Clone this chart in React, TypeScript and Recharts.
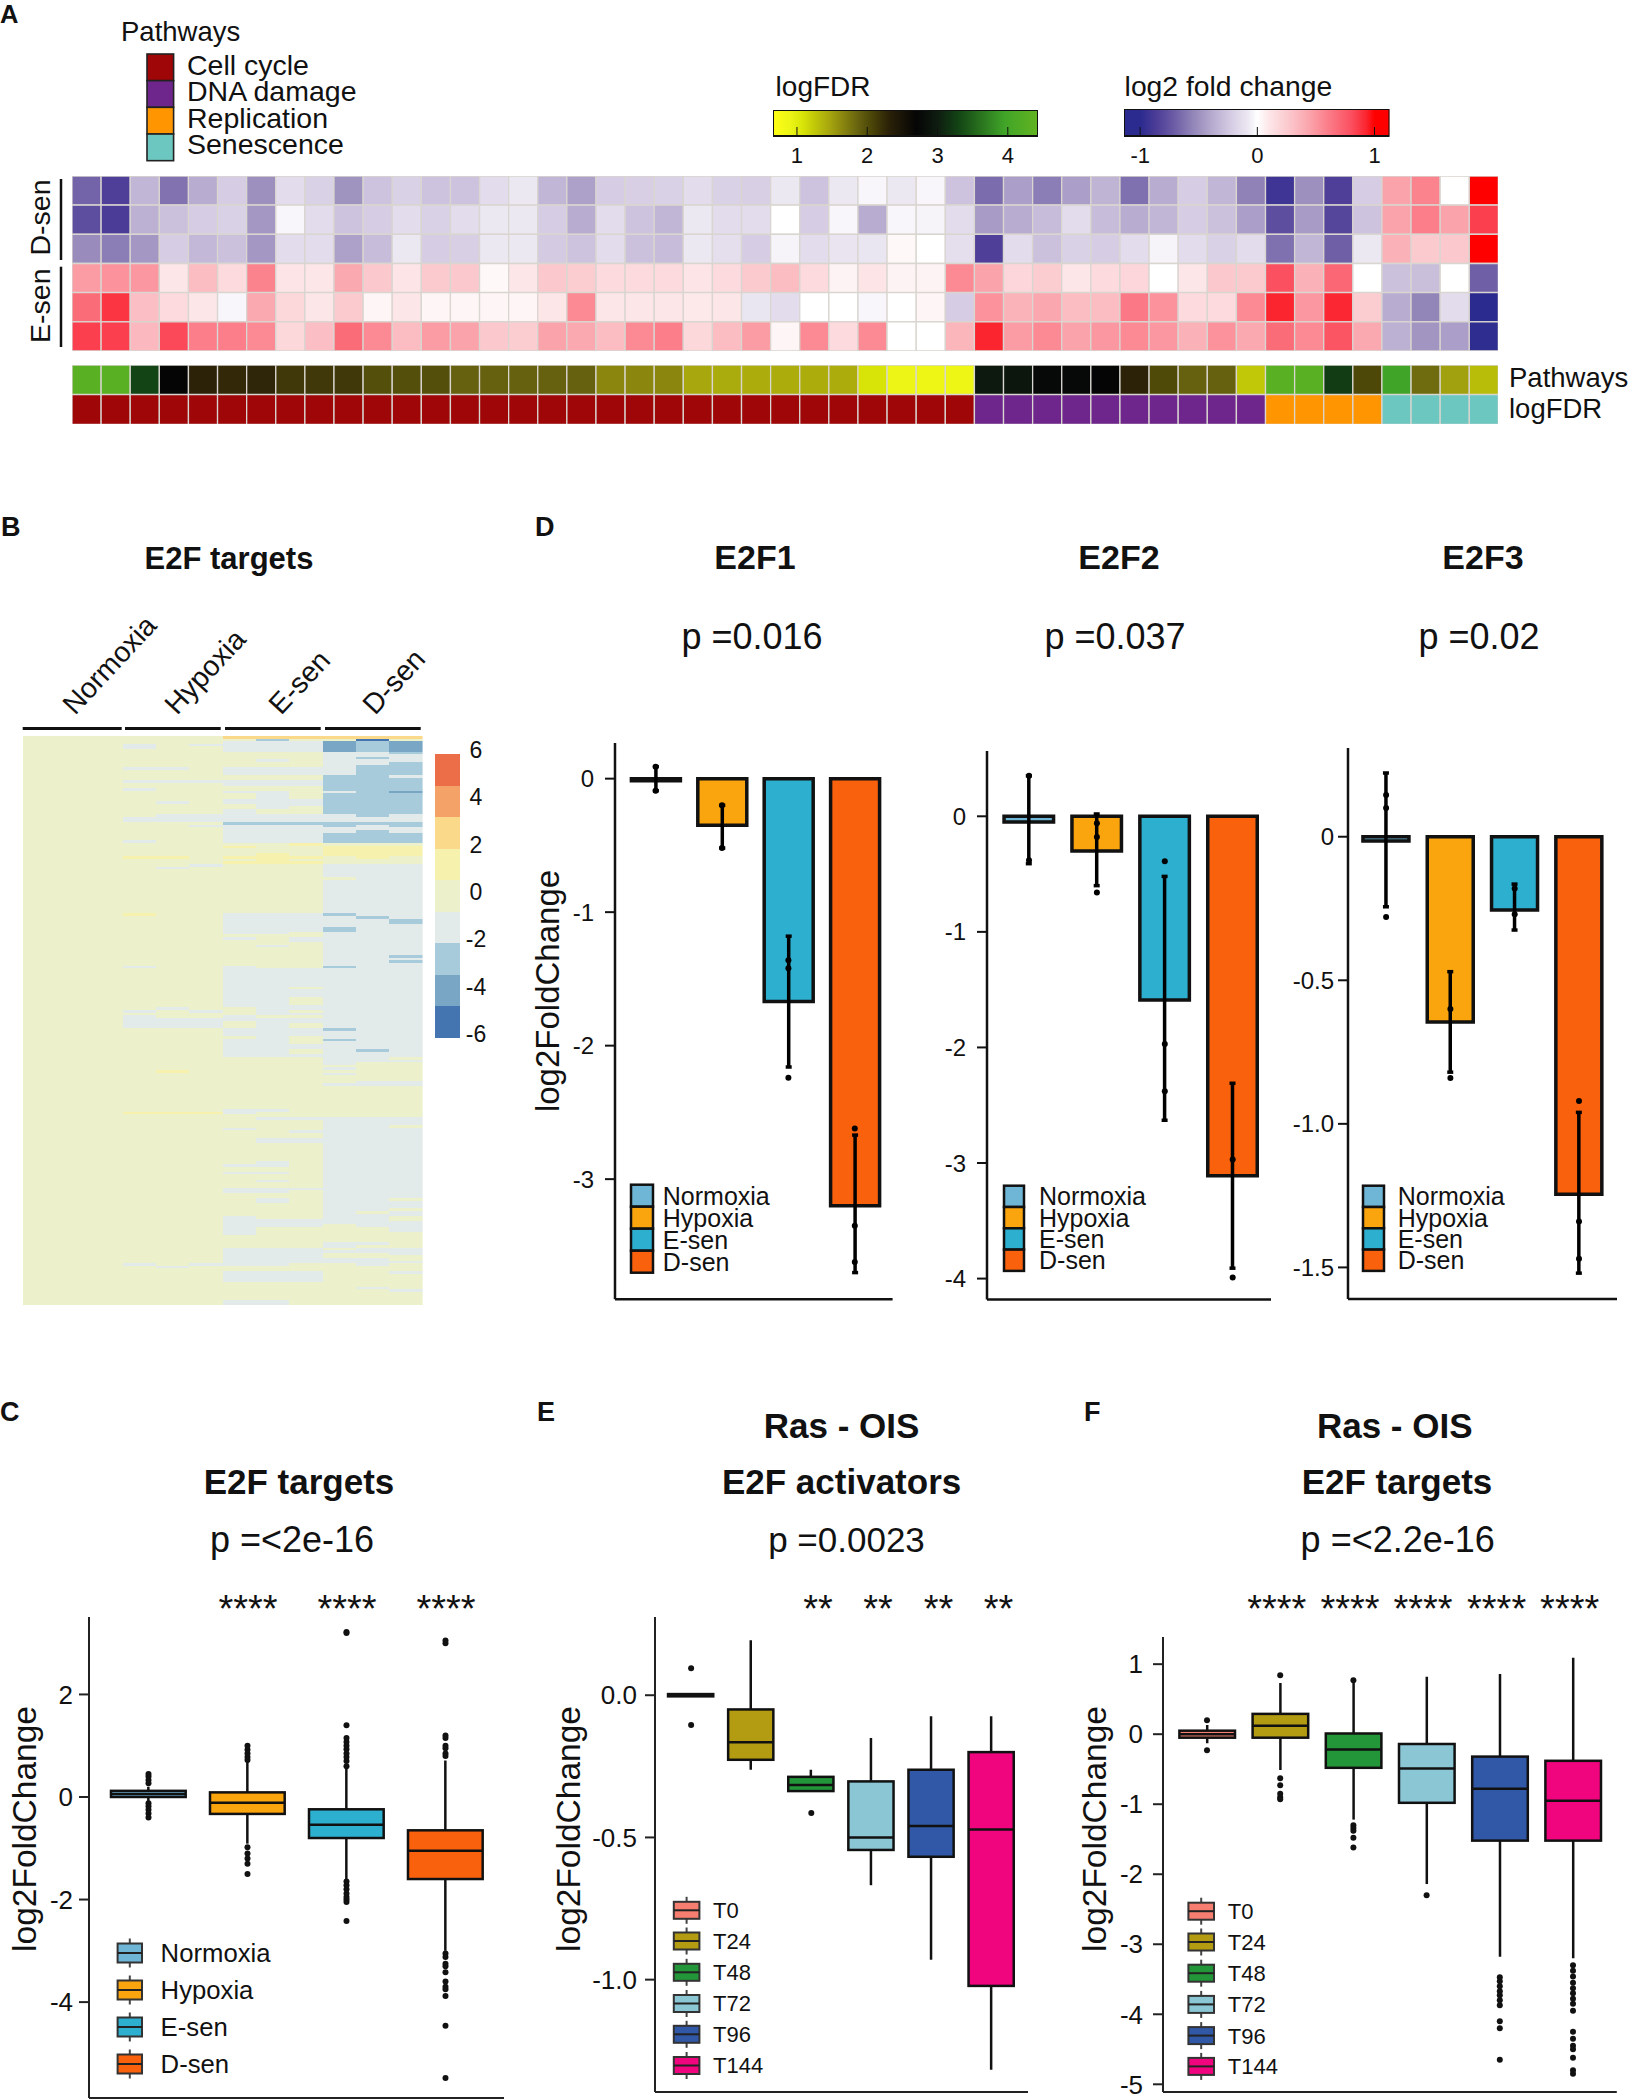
import React from 'react';
import { Bar, BarChart, Cell, ComposedChart, ErrorBar, Line, XAxis, YAxis } from 'recharts';

const FONT = '"Liberation Sans", Arial, sans-serif';
const INK = '#111111';

// ---------- panel A ----------
const dSen1 = [-.68, -.85, -.33, -.62, -.38, -.22, -.5, -.14, -.2, -.49, -.27, -.2, -.27, -.27, -.14, -.08, -.33, -.43, -.22, -.21, -.2, -.14, -.2, -.21, -.08, -.27, -.08, -.03, -.08, -.03, -.27, -.65, -.44, -.58, -.44, -.34, -.63, -.38, -.22, -.33, -.56, -.92, -.5, -.85, -.22, .45, .58, 0, 1];
const dSen2 = [-.78, -.87, -.36, -.28, -.22, -.2, -.47, -.03, -.14, -.27, -.22, -.14, -.2, -.14, -.08, -.08, -.22, -.38, -.14, -.27, -.33, -.08, -.14, -.14, 0, -.22, -.03, -.38, -.03, -.04, -.14, -.45, -.38, -.3, -.14, -.3, -.38, -.33, -.22, -.28, -.44, -.78, -.45, -.82, -.27, .45, .6, .45, .85];
const dSen3 = [-.52, -.58, -.47, -.22, -.32, -.28, -.47, -.14, -.14, -.43, -.3, -.08, -.22, -.21, -.08, -.08, -.23, -.27, -.14, -.28, -.3, -.08, -.13, -.22, -.04, -.14, -.1, -.09, .03, 0, -.13, -.85, -.14, -.28, -.2, -.22, -.14, -.04, -.14, -.2, -.14, -.63, -.33, -.7, -.08, .38, .26, .27, 1];
const eSen1 = [.48, .52, .5, .1, .33, .17, .58, .11, .1, .42, .27, .11, .26, .27, .03, .1, .27, .25, .17, .17, .17, .11, .17, .26, .33, .17, .05, .11, .05, .05, .55, .45, .19, .25, .1, .17, .19, 0, .1, .27, .26, .8, .38, .7, 0, -.28, -.29, 0, -.7];
const eSen2 = [.68, .88, .32, .17, .1, -.03, .42, .18, .1, .26, .04, .1, .04, .04, .04, .04, .1, .55, .1, .1, .1, .09, .1, -.09, -.14, 0, 0, -.03, 0, .04, -.22, .52, .37, .43, .33, .33, .62, .52, .17, .17, .55, .93, .5, .92, .25, -.38, -.55, -.14, -1];
const eSen3 = [.85, .85, .35, .82, .6, .6, .55, .18, .32, .68, .55, .33, .48, .45, .27, .25, .45, .42, .33, .55, .6, .18, .33, .48, .04, .55, .17, .55, 0, 0, .36, .93, .48, .55, .45, .5, .55, .5, .38, .52, .42, .68, .55, .78, .42, -.36, -.48, -.44, -.98];
const logFdr = [4.3, 4.3, 3.3, 2.7, 2.3, 2.25, 2.28, 2.15, 2.15, 2.15, 2, 2, 2, 1.88, 1.88, 1.88, 1.88, 1.88, 1.65, 1.65, 1.65, 1.45, 1.43, 1.42, 1.42, 1.42, 1.42, 1.08, .9, .88, .88, 2.95, 2.92, 2.75, 2.75, 2.7, 2.3, 2.03, 1.88, 1.88, 1.25, 4.3, 4.3, 3.25, 2.05, 3.95, 1.82, 1.5, 1.32];
const pathwayNames = ['Cell cycle', 'DNA damage', 'Replication', 'Senescence'];
const pathwayColors = ['#9e0608', '#6f268c', '#ff9500', '#6cc7c0'];
const pathwayCounts = [31, 10, 4, 4];

const foldStops: [number, string][] = [[-1, '#2b2a8f'], [-.85, '#4f3f98'], [-.72, '#6a5aa5'], [-.55, '#9285b8'], [-.38, '#b8acd0'], [-.22, '#d6cde4'], [-.08, '#ece8f2'], [0, '#ffffff'], [.1, '#fde6e8'], [.27, '#fbc8cd'], [.45, '#fba3ab'], [.6, '#fb7e8a'], [.8, '#fb5060'], [.93, '#fb2530'], [1, '#ff0000']];
const fdrStops: [number, string][] = [[.66, '#ffff14'], [.9, '#ecf516'], [1.08, '#d8e408'], [1.25, '#c0c808'], [1.45, '#a8a80e'], [1.65, '#8a860e'], [1.88, '#65610f'], [2.05, '#4d4708'], [2.3, '#2c2208'], [2.7, '#050505'], [3, '#0e1c10'], [3.3, '#134415'], [3.95, '#40a428'], [4.43, '#62b420']];

// ---------- panel B ----------
const heatBins = ['#ec6e48', '#f5a268', '#fad98a', '#f6f1ac', '#edf1cb', '#e2ebea', '#a8cbdc', '#7aa6c6', '#4575b0'];
const G = -1.3, L = -2.7, M = -4, K = -5.3, Y = 1.3, O = 2.7;
const HEAT_ROWS = 218;
type Paint = [number, number[][]];
const normoxiaCol: Paint[] = [];
const hypoxia1: Paint[] = [[G, [[3, 5], [12, 13], [17, 18], [20, 21], [31, 33], [40, 41], [88, 89], [105, 106], [107, 112], [202, 203]]], [Y, [[46, 47], [68, 69], [144, 145]]]];
const hypoxia2: Paint[] = [[G, [[12, 13], [17, 18], [25, 26], [30, 33], [50, 51], [104, 105], [108, 112], [203, 204]]], [Y, [[46, 47], [128, 129], [144, 145]]]];
const hypoxia3: Paint[] = [[G, [[3, 4], [17, 18], [30, 33], [34, 35], [49, 50], [105, 106], [108, 112], [202, 203]]], [Y, [[144, 145]]]];
const eSenCol1: Paint[] = [[O, [[0, 1]]], [G, [[2, 6], [12, 15], [17, 19], [21, 22], [24, 26], [28, 41], [68, 76], [77, 78], [88, 104], [107, 109], [112, 115], [116, 123], [143, 145], [150, 151], [164, 165], [167, 168], [173, 175], [184, 191], [196, 203], [205, 209], [216, 218]]], [L, [[33, 34]]], [Y, [[42, 43], [46, 47], [48, 49]]]];
const eSenCol2: Paint[] = [[O, [[0, 1]]], [L, [[1, 2]]], [G, [[2, 6], [9, 10], [12, 15], [17, 19], [21, 28], [30, 41], [68, 76], [80, 81], [89, 107], [108, 123], [143, 144], [146, 147], [154, 156], [163, 165], [167, 168], [170, 171], [173, 175], [177, 179], [185, 188], [196, 203], [205, 209], [216, 218]]], [L, [[33, 34]]], [Y, [[45, 49]]]];
const eSenCol3: Paint[] = [[O, [[0, 1]]], [G, [[2, 6], [12, 15], [17, 19], [24, 27], [30, 41], [68, 75], [77, 79], [89, 96], [97, 100], [103, 105], [106, 107], [108, 110], [112, 115], [118, 120], [122, 123], [146, 147], [151, 152], [154, 156], [173, 174], [185, 188], [196, 202], [205, 209]]], [L, [[33, 34]]], [Y, [[41, 42], [46, 47], [48, 49]]]];
const dSenCol1: Paint[] = [[O, [[0, 1]]], [M, [[2, 6]]], [G, [[6, 15], [21, 22], [30, 33], [35, 37], [49, 54], [55, 68], [69, 73], [75, 88], [89, 112], [113, 116], [117, 126], [127, 128], [129, 130], [133, 134], [146, 187], [194, 196], [197, 198], [200, 202]]], [L, [[15, 21], [22, 30], [33, 35], [37, 41], [68, 69], [73, 75], [88, 89], [112, 113], [116, 117]]], [Y, [[42, 46]]]];
const dSenCol2: Paint[] = [[O, [[0, 1]]], [K, [[1, 2]]], [L, [[2, 6], [8, 9], [11, 31], [33, 34], [36, 41], [69, 70], [120, 121]]], [G, [[6, 8], [9, 11], [31, 33], [34, 36], [49, 69], [70, 120], [121, 125], [132, 134], [146, 182], [183, 188], [194, 195], [196, 198], [200, 203], [211, 212]]], [Y, [[42, 47]]]];
const dSenCol3: Paint[] = [[O, [[0, 1]]], [M, [[2, 6], [21, 22]]], [L, [[6, 7], [10, 15], [16, 21], [22, 30], [33, 35], [37, 41], [70, 72], [84, 85], [86, 87]]], [G, [[7, 10], [15, 16], [30, 33], [35, 37], [49, 70], [72, 84], [85, 86], [87, 123], [124, 125], [132, 134], [146, 149], [150, 177], [178, 181], [182, 184], [186, 190], [196, 199], [201, 202], [205, 206], [212, 213]]], [Y, [[42, 46]]]];
const heatColumns = [normoxiaCol, normoxiaCol, normoxiaCol, hypoxia1, hypoxia2, hypoxia3, eSenCol1, eSenCol2, eSenCol3, dSenCol1, dSenCol2, dSenCol3];

// ---------- panel D ----------
const conditions = ['Normoxia', 'Hypoxia', 'E-sen', 'D-sen'];
const conditionColors = ['#6fb5d6', '#fba50e', '#2db0d0', '#fa610d'];
const e2f1Values = [-.015, -.35, -1.67, -3.2];
const e2f1High = [.09, -.2, -1.18, -2.67];
const e2f1Low = [-.09, -.52, -2.16, -3.7];
const e2f1Points = [[.09, -.09], [-.2, -.52], [-1.36, -1.42, -2.24], [-2.62, -3.35, -3.62]];
const e2f2Values = [-.05, -.3, -1.59, -3.11];
const e2f2High = [.35, .02, -.52, -2.31];
const e2f2Low = [-.41, -.6, -2.63, -3.91];
const e2f2Points = [[.35, -.38], [-.06, -.18, -.66], [-.39, -1.97, -2.38], [-2.97, -3.99]];
const e2f3Values = [-.015, -.645, -.255, -1.245];
const e2f3High = [.222, -.47, -.165, -.96];
const e2f3Low = [-.244, -.82, -.325, -1.52];
const e2f3Points = [[.145, .1, -.28], [-.6, -.84], [-.18, -.27], [-.92, -1.34, -1.47]];

// ---------- panel C ----------
const cQ3 = [.12, .09, -.24, -.65];
const cQ1 = [0, -.33, -.8, -1.6];
const cMedian = [.06, -.11, -.54, -1.05];
const cHigh = [.2, .7, .6, .71];
const cLow = [-.1, -.91, -1.6, -3];
const cOutliers = [
  [.27, .33, .4, .45, -.12, -.18, -.25, -.32, -.4],
  [.72, .78, .85, .92, 1, -.98, -1.1, -1.2, -1.3, -1.5],
  [.6, .7, .78, .85, .93, 1, 1.07, 1.15, 1.4, 3.2, 3.22, -1.65, -1.72, -1.8, -1.88, -1.95, -2, -2.05, -2.42],
  [.8, .85, .95, 1, 1.15, 1.2, 3, 3.05, -3.05, -3.12, -3.25, -3.3, -3.42, -3.6, -3.7, -3.75, -3.88, -4.46, -5.48],
];

// ---------- panels E and F ----------
const timepoints = ['T0', 'T24', 'T48', 'T72', 'T96', 'T144'];
const timeColors = ['#f67e70', '#b39c12', '#23963a', '#8bc6d4', '#3158a6', '#f0057e'];
const eQ3 = [.004, -.05, -.287, -.303, -.262, -.2];
const eQ1 = [-.004, -.227, -.337, -.544, -.568, -1.022];
const eMedian = [0, -.165, -.316, -.5, -.46, -.472];
const eHigh = [.004, .193, -.262, -.15, -.074, -.074];
const eLow = [-.004, -.262, -.337, -.668, -.93, -1.317];
const eOutliers = [[.095, -.105], [], [-.414], [], [], []];
const fQ3 = [.05, .29, .01, -.14, -.32, -.38];
const fQ1 = [-.05, -.05, -.48, -.98, -1.52, -1.52];
const fMedian = [0, .12, -.22, -.49, -.78, -.95];
const fHigh = [.13, .73, .73, .82, .86, 1.09];
const fLow = [-.13, -.51, -1.22, -2.14, -3.18, -3.2];
const fOutliers = [
  [.2, -.23],
  [.84, -.63, -.73, -.85, -.9, -.93],
  [.77, -1.3, -1.34, -1.38, -1.48, -1.62],
  [-2.3],
  [-3.47, -3.53, -3.6, -3.67, -3.73, -3.8, -3.87, -4.1, -4.2, -4.65],
  [-3.3, -3.38, -3.46, -3.55, -3.63, -3.7, -3.78, -3.85, -3.95, -4.25, -4.35, -4.45, -4.5, -4.62, -4.8, -4.85],
];

// ---------- helpers ----------
function hexToRgb(hex: string) {
  return [1, 3, 5].map((i) => parseInt(hex.slice(i, i + 2), 16));
}

function scaleColor(stops: [number, string][], v: number) {
  if (v <= stops[0][0]) return stops[0][1];
  for (let i = 1; i < stops.length; i++) {
    if (v <= stops[i][0]) {
      const t = (v - stops[i - 1][0]) / (stops[i][0] - stops[i - 1][0]);
      const a = hexToRgb(stops[i - 1][1]);
      const b = hexToRgb(stops[i][1]);
      return `rgb(${a.map((c, k) => Math.round(c + (b[k] - c) * t)).join(',')})`;
    }
  }
  return stops[stops.length - 1][1];
}

function binColor(v: number) {
  return heatBins[Math.round((6 - v) / (12 / 9) - 0.5)];
}

function columnRuns(paints: Paint[]) {
  const cells = new Array(HEAT_ROWS).fill(0);
  paints.forEach(([value, spans]) => spans.forEach(([s, e]) => {
    for (let r = s; r < e; r++) cells[r] = value;
  }));
  const runs: { value: number; length: number }[] = [];
  cells.forEach((v) => {
    const last = runs[runs.length - 1];
    if (last && last.value === v) last.length += 1;
    else runs.push({ value: v, length: 1 });
  });
  return runs;
}

function Place({ left, top, style, children }: any) {
  return <div style={{ position: 'absolute', left, top, ...style }}>{children}</div>;
}

function T({ x, y, size, bold, anchor = 'start', rotate, children }: any) {
  return (
    <text
      x={x}
      y={y}
      fontSize={size}
      fontWeight={bold ? 700 : 400}
      textAnchor={anchor}
      fill={INK}
      transform={rotate ? `rotate(${rotate} ${x} ${y})` : undefined}
    >
      {children}
    </text>
  );
}

function HeatGrid({ left, top, width, height, rows }: { left: number; top: number; width: number; height: number; rows: string[][] }) {
  const cols = rows[0].map((_, c) => c);
  const data = rows.map((_, i) => {
    const row: Record<string, any> = { name: `r${i}` };
    cols.forEach((c) => { row[`c${c}`] = 1; });
    return row;
  });
  return (
    <Place left={left} top={top}>
      <BarChart layout="vertical" width={width} height={height} data={data} margin={{ top: 0, right: 0, bottom: 0, left: 0 }} barCategoryGap={0}>
        <XAxis type="number" hide domain={[0, cols.length]} />
        <YAxis type="category" dataKey="name" hide />
        {cols.map((c) => (
          <Bar key={c} dataKey={`c${c}`} stackId="h" stroke="#d9d5d0" strokeWidth={1.3} isAnimationActive={false}>
            {rows.map((r, i) => <Cell key={i} fill={r[c]} />)}
          </Bar>
        ))}
      </BarChart>
    </Place>
  );
}

function ColorBar({ id, left, top, width, barHeight, domain, ticks, stops }: any) {
  const [lo, hi] = domain;
  return (
    <Place left={left} top={top}>
      <BarChart layout="vertical" width={width} height={barHeight + 40} data={[{ name: id, range: [lo, hi] }]} margin={{ top: 0, right: 0, bottom: 0, left: 0 }} barCategoryGap={0}>
        <defs>
          <linearGradient id={id} x1="0" y1="0" x2="1" y2="0">
            {stops.map(([v, c]: [number, string]) => (
              <stop key={v} offset={`${((v - lo) / (hi - lo)) * 100}%`} stopColor={c} />
            ))}
          </linearGradient>
        </defs>
        <XAxis
          type="number"
          domain={domain}
          ticks={ticks}
          interval={0}
          height={40}
          axisLine={false}
          tickLine={false}
          tickSize={0}
          tickMargin={0}
          allowDataOverflow
          tick={(p: any) => (
            <g>
              <line x1={p.x} x2={p.x} y1={barHeight - 9} y2={barHeight} stroke={INK} strokeWidth={1} />
              <text x={p.x} y={barHeight + 27} textAnchor="middle" fontSize={22} fill={INK} fontFamily={FONT}>{p.payload.value}</text>
            </g>
          )}
        />
        <YAxis type="category" dataKey="name" hide />
        <Bar dataKey="range" fill={`url(#${id})`} stroke={INK} strokeWidth={2} isAnimationActive={false} />
      </BarChart>
    </Place>
  );
}

const tickStyle = (size: number) => ({ fill: INK, fontSize: size, fontFamily: FONT });

function FoldBars({ axisX, endX, top, bottom, first, step, barWidth, domain, ticks, format, values, high, low, points, tickGap }: any) {
  const yw = 70;
  const data = conditions.map((c, i) => {
    const row: Record<string, any> = {
      name: c,
      value: values[i],
      err: [values[i] - low[i], high[i] - values[i]],
      color: conditionColors[i],
    };
    points[i].forEach((p: number, k: number) => { row[`p${k}`] = p; });
    return row;
  });
  return (
    <Place left={axisX - yw} top={top}>
      <ComposedChart width={endX - axisX + yw} height={bottom - top} data={data} margin={{ top: 0, right: 0, bottom: 0, left: 0 }}>
        <XAxis
          dataKey="name"
          height={2}
          tick={false}
          tickLine={false}
          axisLine={{ stroke: INK, strokeWidth: 2.5 }}
          padding={{ left: first - step / 2 - axisX, right: endX - (first + step * 3.5) }}
        />
        <YAxis
          width={yw}
          type="number"
          domain={domain}
          ticks={ticks}
          interval={0}
          allowDataOverflow
          tickFormatter={format}
          tick={tickStyle(24)}
          tickSize={10}
          tickMargin={tickGap}
          axisLine={{ stroke: INK, strokeWidth: 2.5 }}
          tickLine={{ stroke: INK, strokeWidth: 2 }}
        />
        <Bar dataKey="value" barSize={barWidth} stroke={INK} strokeWidth={3.5} isAnimationActive={false}>
          {data.map((d) => <Cell key={d.name} fill={d.color} />)}
          <ErrorBar dataKey="err" width={3} strokeWidth={3.5} stroke="#000" direction="y" isAnimationActive={false} />
        </Bar>
        {[0, 1, 2].map((k) => (
          <Line key={k} dataKey={`p${k}`} stroke="none" dot={{ r: 3, fill: '#000', stroke: 'none' }} activeDot={false} legendType="none" isAnimationActive={false} />
        ))}
      </ComposedChart>
    </Place>
  );
}

function BoxShape(props: any) {
  const { x, y, width, height, payload } = props;
  const top = Math.min(y, y + height);
  const h = Math.abs(height);
  const perUnit = h / (payload.q3 - payload.q1);
  const at = (v: number) => top + (payload.q3 - v) * perUnit;
  const cx = x + width / 2;
  return (
    <g>
      <line x1={cx} x2={cx} y1={at(payload.high)} y2={at(payload.low)} stroke={INK} strokeWidth={2.5} />
      <rect x={x} y={top} width={width} height={h} fill={payload.color} stroke={INK} strokeWidth={2.5} />
      <line x1={x} x2={x + width} y1={at(payload.median)} y2={at(payload.median)} stroke={INK} strokeWidth={2.5} />
    </g>
  );
}

function BoxPanel({ axisX, endX, top, bottom, first, step, boxWidth, domain, ticks, format, names, colors, q1, q3, median, high, low, outliers, tickGap }: any) {
  const yw = 80;
  const n = names.length;
  const data = names.map((name: string, i: number) => {
    const row: Record<string, any> = { name, box: [q1[i], q3[i]], q1: q1[i], q3: q3[i], median: median[i], high: high[i], low: low[i], color: colors[i] };
    outliers[i].forEach((p: number, k: number) => { row[`o${k}`] = p; });
    return row;
  });
  const maxOut = Math.max(...outliers.map((o: number[]) => o.length));
  return (
    <Place left={axisX - yw} top={top}>
      <ComposedChart width={endX - axisX + yw} height={bottom - top} data={data} margin={{ top: 0, right: 0, bottom: 0, left: 0 }}>
        <XAxis
          dataKey="name"
          height={2}
          tick={false}
          tickLine={false}
          axisLine={{ stroke: '#222', strokeWidth: 2 }}
          padding={{ left: first - step / 2 - axisX, right: endX - (first + step * (n - 0.5)) }}
        />
        <YAxis
          width={yw}
          type="number"
          domain={domain}
          ticks={ticks}
          interval={0}
          allowDataOverflow
          tickFormatter={format}
          tick={tickStyle(26)}
          tickSize={10}
          tickMargin={tickGap}
          axisLine={{ stroke: '#222', strokeWidth: 2 }}
          tickLine={{ stroke: '#222', strokeWidth: 2 }}
        />
        <Bar dataKey="box" barSize={boxWidth} shape={<BoxShape />} isAnimationActive={false} />
        {Array.from({ length: maxOut }, (_, k) => (
          <Line key={k} dataKey={`o${k}`} stroke="none" dot={{ r: 3, fill: '#111', stroke: 'none' }} activeDot={false} legendType="none" isAnimationActive={false} />
        ))}
      </ComposedChart>
    </Place>
  );
}

function SwatchLegend({ x, textX, tops, rowH, w, names, colors, size }: any) {
  return (
    <g>
      {names.map((name: string, i: number) => (
        <g key={name}>
          <rect x={x} y={tops + i * rowH} width={w} height={rowH} fill={colors[i]} stroke={INK} strokeWidth={2.5} />
          <T x={textX} y={tops + i * rowH + rowH * 0.5 + size * 0.36} size={size}>{name}</T>
        </g>
      ))}
    </g>
  );
}

function BoxLegend({ x, w, textX, centers, boxH, names, colors, size }: any) {
  return (
    <g>
      {names.map((name: string, i: number) => (
        <g key={name}>
          <line x1={x + w / 2} x2={x + w / 2} y1={centers[i] - boxH / 2 - 5} y2={centers[i] + boxH / 2 + 5} stroke="#444" strokeWidth={2} />
          <rect x={x} y={centers[i] - boxH / 2} width={w} height={boxH} fill={colors[i]} stroke="#333" strokeWidth={2} />
          <line x1={x} x2={x + w} y1={centers[i]} y2={centers[i]} stroke="#222" strokeWidth={2} />
          <T x={textX} y={centers[i] + size * 0.36} size={size}>{name}</T>
        </g>
      ))}
    </g>
  );
}

function Stars({ xs, text }: { xs: number[]; text: string }) {
  return <>{xs.map((x) => <T key={x} x={x} y={1622} size={38} anchor="middle">{text}</T>)}</>;
}

const fixed1 = (v: number) => (v === 0 ? '0' : v.toFixed(1));
const fixed1Zero = (v: number) => v.toFixed(1);
const plain = (v: number) => String(v);

export default function App() {
  const pathwayRow = pathwayColors.flatMap((c, i) => new Array(pathwayCounts[i]).fill(c));
  const foldRows = [dSen1, dSen2, dSen3, eSen1, eSen2, eSen3].map((r) => r.map((v) => scaleColor(foldStops, v)));
  const annotationRows = [logFdr.map((v) => scaleColor(fdrStops, v)), pathwayRow];

  const runsByColumn = heatColumns.map(columnRuns);
  const maxRuns = Math.max(...runsByColumn.map((r) => r.length));
  const heatData = runsByColumn.map((runs, i) => {
    const row: Record<string, any> = { name: `s${i}` };
    for (let k = 0; k < maxRuns; k++) row[`r${k}`] = runs[k] ? runs[k].length : 0;
    return row;
  });
  const binData = [Object.fromEntries([['name', 'bins'], ...heatBins.map((_, i) => [`b${i}`, 12 / 9])])];

  return (
    <div style={{ position: 'absolute', left: 0, top: 0, width: 1628, height: 2100, background: '#fff', fontFamily: FONT, overflow: 'hidden' }}>
      {/* A */}
      <HeatGrid left={71.6} top={176} width={1426.4} height={175} rows={foldRows} />
      <HeatGrid left={71.6} top={365} width={1426.4} height={59} rows={annotationRows} />
      <ColorBar id="fdrGrad" left={773} top={110} width={265} barHeight={26} domain={[.659, 4.43]} ticks={[1, 2, 3, 4]} stops={fdrStops} />
      <ColorBar id="foldGrad" left={1124} top={109} width={265.5} barHeight={27} domain={[-1.138, 1.128]} ticks={[-1, 0, 1]} stops={foldStops} />

      {/* B: the chart is laid out on whole-pixel columns, then stretched to the picture's width */}
      <Place left={22.7} top={736} style={{ shapeRendering: 'crispEdges', transform: 'scaleX(1.00909)', transformOrigin: 'left top' }}>
        <BarChart width={396} height={569} data={heatData} margin={{ top: 0, right: 0, bottom: 0, left: 0 }} barCategoryGap={0}>
          <XAxis dataKey="name" hide />
          <YAxis type="number" hide reversed domain={[0, HEAT_ROWS]} allowDataOverflow />
          {Array.from({ length: maxRuns }, (_, k) => (
            <Bar key={k} dataKey={`r${k}`} stackId="rows" isAnimationActive={false}>
              {runsByColumn.map((runs, i) => <Cell key={i} fill={binColor(runs[k] ? runs[k].value : 0)} />)}
            </Bar>
          ))}
        </BarChart>
      </Place>
      <Place left={435} top={734} style={{ shapeRendering: 'crispEdges' }}>
        <BarChart width={70} height={324} data={binData} margin={{ top: 20, right: 0, bottom: 20, left: 0 }} barCategoryGap={0}>
          <XAxis dataKey="name" hide />
          <YAxis
            type="number"
            reversed
            orientation="right"
            width={45}
            domain={[0, 12]}
            ticks={[0, 2, 4, 6, 8, 10, 12]}
            interval={0}
            axisLine={false}
            tickLine={false}
            tick={(p: any) => (
              <text x={p.x + 8} y={p.y + 4} textAnchor="middle" fontSize={23} fill={INK} fontFamily={FONT}>{6 - p.payload.value}</text>
            )}
          />
          {heatBins.map((c, i) => <Bar key={c} dataKey={`b${i}`} stackId="bins" fill={c} isAnimationActive={false} />)}
        </BarChart>
      </Place>

      {/* D */}
      <FoldBars axisX={615.4} endX={893} top={742.7} bottom={1301} first={656} step={66.4} barWidth={49} domain={[-3.9, .267]} ticks={[0, -1, -2, -3]} format={plain} values={e2f1Values} high={e2f1High} low={e2f1Low} points={e2f1Points} tickGap={11} />
      <FoldBars axisX={987} endX={1271} top={750.6} bottom={1301} first={1029} step={67.9} barWidth={49.5} domain={[-4.18, .565]} ticks={[0, -1, -2, -3, -4]} format={plain} values={e2f2Values} high={e2f2High} low={e2f2Low} points={e2f2Points} tickGap={11} />
      <FoldBars axisX={1347.6} endX={1617} top={748} bottom={1301} first={1385.7} step={64.3} barWidth={46} domain={[-1.61, .309]} ticks={[0, -.5, -1, -1.5]} format={fixed1} values={e2f3Values} high={e2f3High} low={e2f3Low} points={e2f3Points} tickGap={4} />

      {/* C, E, F */}
      <BoxPanel axisX={89.2} endX={504.4} top={1616.5} bottom={2099.5} first={148.7} step={99} boxWidth={74.7} domain={[-5.87, 3.51]} ticks={[2, 0, -2, -4]} format={plain} names={conditions} colors={conditionColors} q1={cQ1} q3={cQ3} median={cMedian} high={cHigh} low={cLow} outliers={cOutliers} tickGap={6} />
      <BoxPanel axisX={654.9} endX={1028} top={1617} bottom={2094} first={691} step={60.1} boxWidth={45.2} domain={[-1.395, .275]} ticks={[0, -.5, -1]} format={fixed1Zero} names={timepoints} colors={timeColors.map((c, i) => (i === 0 ? INK : c))} q1={eQ1} q3={eQ3} median={eMedian} high={eHigh} low={eLow} outliers={eOutliers} tickGap={8} />
      <BoxPanel axisX={1163.2} endX={1617} top={1637} bottom={2094} first={1207.2} step={73.2} boxWidth={55.6} domain={[-5.11, 1.388]} ticks={[1, 0, -1, -2, -3, -4, -5]} format={plain} names={timepoints} colors={timeColors} q1={fQ1} q3={fQ3} median={fMedian} high={fHigh} low={fLow} outliers={fOutliers} tickGap={10} />

      {/* text and keys */}
      <svg width={1628} height={2100} style={{ position: 'absolute', left: 0, top: 0, pointerEvents: 'none', fontFamily: FONT }}>
        <T x={0} y={23} size={25.5} bold>A</T>
        <T x={1} y={536} size={27} bold>B</T>
        <T x={0} y={1421} size={27} bold>C</T>
        <T x={535} y={536} size={27} bold>D</T>
        <T x={537} y={1421} size={27} bold>E</T>
        <T x={1084} y={1421} size={27} bold>F</T>

        <T x={121} y={41} size={27.5}>Pathways</T>
        <g>
          {pathwayNames.map((name, i) => (
            <g key={name}>
              <rect x={147} y={54 + i * 26.67} width={26.6} height={26.67} fill={pathwayColors[i]} stroke="#222" strokeWidth={1.6} />
              <T x={187} y={75 + i * 26.4} size={28.5}>{name}</T>
            </g>
          ))}
        </g>
        <T x={775.6} y={96} size={28}>logFDR</T>
        <T x={1124.6} y={96} size={28.3}>log2 fold change</T>
        <T x={1509} y={387} size={27.5}>Pathways</T>
        <T x={1509} y={418} size={27.5}>logFDR</T>
        <T x={50} y={217.5} size={28.5} anchor="middle" rotate={-90}>D-sen</T>
        <T x={50} y={305.7} size={28.5} anchor="middle" rotate={-90}>E-sen</T>
        <line x1={61} x2={61} y1={179} y2={260} stroke={INK} strokeWidth={2.5} />
        <line x1={61} x2={61} y1={266.7} y2={347} stroke={INK} strokeWidth={2.5} />

        <T x={229} y={569} size={31} bold anchor="middle">E2F targets</T>
        {[[22.7, 121.7], [125, 220.7], [225, 320.7], [325, 420.7]].map(([a, b]) => (
          <line key={a} x1={a} x2={b} y1={728.6} y2={728.6} stroke={INK} strokeWidth={3} />
        ))}
        <T x={75} y={716} size={28.5} rotate={-47}>Normoxia</T>
        <T x={177} y={716} size={28.5} rotate={-47}>Hypoxia</T>
        <T x={281} y={716} size={28.5} rotate={-47}>E-sen</T>
        <T x={375} y={716} size={28.5} rotate={-47}>D-sen</T>

        <T x={755} y={569} size={34} bold anchor="middle">E2F1</T>
        <T x={1119} y={569} size={34} bold anchor="middle">E2F2</T>
        <T x={1483} y={569} size={34} bold anchor="middle">E2F3</T>
        <T x={752} y={649} size={36} anchor="middle">p =0.016</T>
        <T x={1115} y={649} size={36} anchor="middle">p =0.037</T>
        <T x={1479} y={649} size={36} anchor="middle">p =0.02</T>
        <T x={559} y={991} size={33} anchor="middle" rotate={-90}>log2FoldChange</T>
        <SwatchLegend x={631} textX={662.8} tops={1184.7} rowH={22} w={22} names={conditions} colors={conditionColors} size={25} />
        <SwatchLegend x={1004} textX={1039} tops={1185.7} rowH={21.3} w={20} names={conditions} colors={conditionColors} size={25} />
        <SwatchLegend x={1363} textX={1397.7} tops={1185.7} rowH={21.3} w={21} names={conditions} colors={conditionColors} size={25} />

        <T x={299} y={1494} size={35} bold anchor="middle">E2F targets</T>
        <T x={292} y={1552} size={36} anchor="middle">p =&lt;2e-16</T>
        <Stars xs={[248, 347, 446]} text="****" />
        <T x={36} y={1829} size={33.5} anchor="middle" rotate={-90}>log2FoldChange</T>
        <BoxLegend x={117.6} w={24.4} textX={160.6} centers={[1953, 1990, 2027, 2064]} boxH={19} names={conditions} colors={conditionColors} size={25.7} />

        <T x={841.6} y={1438} size={35} bold anchor="middle">Ras - OIS</T>
        <T x={841.6} y={1494} size={35} bold anchor="middle">E2F activators</T>
        <T x={846.5} y={1552} size={35} anchor="middle">p =0.0023</T>
        <Stars xs={[818, 878, 938.6, 998.6]} text="**" />
        <T x={580} y={1829} size={33.5} anchor="middle" rotate={-90}>log2FoldChange</T>
        <BoxLegend x={673.8} w={25.6} textX={713} centers={[1910.3, 1941, 1972.3, 2003.5, 2034.3, 2065.5]} boxH={17} names={timepoints} colors={timeColors} size={22} />

        <T x={1394.7} y={1438} size={35} bold anchor="middle">Ras - OIS</T>
        <T x={1397} y={1494} size={35} bold anchor="middle">E2F targets</T>
        <T x={1397.7} y={1552} size={36} anchor="middle">p =&lt;2.2e-16</T>
        <Stars xs={[1276.8, 1350, 1423, 1496.6, 1569.7]} text="****" />
        <T x={1106} y={1829} size={33.5} anchor="middle" rotate={-90}>log2FoldChange</T>
        <BoxLegend x={1188.4} w={25.6} textX={1227.8} centers={[1911.2, 1942, 1973.2, 2004.4, 2035.6, 2066.4]} boxH={17} names={timepoints} colors={timeColors} size={22} />
      </svg>
    </div>
  );
}
